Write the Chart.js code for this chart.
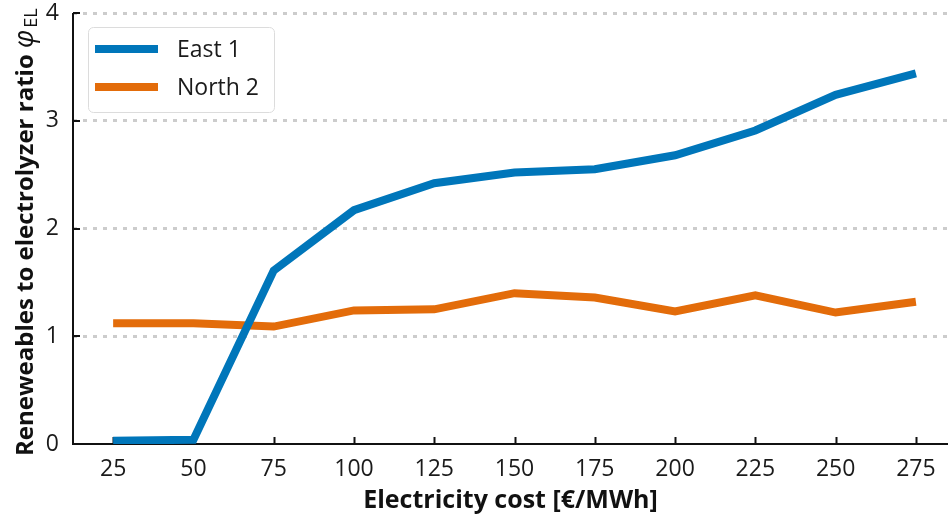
<!DOCTYPE html>
<html>
<head>
<meta charset="utf-8">
<script src="https://cdn.jsdelivr.net/npm/chart.js@4.4.0/dist/chart.umd.min.js"></script>
<style>
  html, body { margin: 0; padding: 0; background: #fff; }
  #wrap { width: 948px; height: 516px; }
</style>
</head>
<body>
<div id="wrap"><canvas id="ratio-chart" width="948" height="516"></canvas></div>
<script>
// electricity cost steps and the ratio per region
const costs = [25, 50, 75, 100, 125, 150, 175, 200, 225, 250, 275];
const east1 = [0.03, 0.04, 1.61, 2.17, 2.42, 2.52, 2.55, 2.68, 2.91, 3.24, 3.44];
const north2 = [1.12, 1.12, 1.09, 1.24, 1.25, 1.40, 1.36, 1.23, 1.38, 1.22, 1.32];
const xTicks = [25, 50, 75, 100, 125, 150, 175, 200, 225, 250, 275];
const yTicks = [0, 1, 2, 3, 4];

const FONT = "'Open Sans', sans-serif";
const BLUE = '#0076ba';
const ORANGE = '#e36c0a';

// spines + short inward tick marks, drawn under the lines
const axesPlugin = {
    id: 'axesPlugin',
    beforeDatasetsDraw(chart) {
        const {ctx, chartArea: a, scales: {x, y}} = chart;
        ctx.save();
        ctx.strokeStyle = '#111';
        ctx.lineWidth = 2;
        ctx.beginPath();
        ctx.moveTo(a.left, a.top);
        ctx.lineTo(a.left, a.bottom);
        ctx.lineTo(a.right, a.bottom);
        ctx.stroke();
        ctx.beginPath();
        xTicks.forEach((v) => {
            const px = Math.round(x.getPixelForValue(v)) + 0.5;
            ctx.moveTo(px, a.bottom);
            ctx.lineTo(px, a.bottom - 7);
        });
        yTicks.forEach((v) => {
            const py = Math.round(y.getPixelForValue(v));
            ctx.moveTo(a.left, py);
            ctx.lineTo(a.left + 7, py);
        });
        ctx.stroke();
        ctx.restore();
    }
};

// rotated y title with the phi_EL symbol
const yTitlePlugin = {
    id: 'yTitlePlugin',
    afterDraw(chart) {
        const ctx = chart.ctx;
        const parts = [
            {text: 'Reneweables to electrolyzer ratio ', font: 'bold 24px ' + FONT, dy: 0},
            {text: 'φ', font: 'italic 27px ' + FONT, dy: 0},
            {text: 'EL', font: '18px ' + FONT, dy: 4}
        ];
        ctx.save();
        ctx.translate(33, 456);
        ctx.rotate(-Math.PI / 2);
        ctx.fillStyle = '#111';
        ctx.textBaseline = 'alphabetic';
        let pos = 0;
        parts.forEach((p) => {
            ctx.font = p.font;
            ctx.fillText(p.text, pos, p.dy);
            pos += ctx.measureText(p.text).width + (p.text === 'φ' ? 2 : 0);
        });
        ctx.restore();
    }
};

// legend box inside the plot, upper left
const legendPlugin = {
    id: 'legendPlugin',
    afterDraw(chart) {
        const ctx = chart.ctx;
        const bx = 88, by = 27, bw = 186, bh = 85, r = 5;
        ctx.save();
        ctx.fillStyle = 'rgba(255,255,255,0.85)';
        ctx.strokeStyle = '#dcdcdc';
        ctx.lineWidth = 1;
        ctx.beginPath();
        ctx.roundRect(bx + 0.5, by + 0.5, bw, bh, r);
        ctx.fill();
        ctx.stroke();
        ctx.font = '23px ' + FONT;
        ctx.textBaseline = 'middle';
        chart.data.datasets.forEach((ds, i) => {
            const ly = 49 + i * 38;
            ctx.strokeStyle = ds.borderColor;
            ctx.lineWidth = 8;
            ctx.beginPath();
            ctx.moveTo(95, ly);
            ctx.lineTo(158, ly);
            ctx.stroke();
            ctx.fillStyle = '#1a1a1a';
            ctx.fillText(ds.label, 177, ly + 1);
        });
        ctx.restore();
    }
};

new Chart(document.getElementById('ratio-chart'), {
    type: 'line',
    data: {
        datasets: [
            {
                label: 'East 1',
                data: costs.map((c, i) => ({x: c, y: east1[i]})),
                borderColor: BLUE,
                borderWidth: 8,
                pointRadius: 0,
                tension: 0
            },
            {
                label: 'North 2',
                data: costs.map((c, i) => ({x: c, y: north2[i]})),
                borderColor: ORANGE,
                borderWidth: 8,
                pointRadius: 0,
                tension: 0
            }
        ]
    },
    options: {
        responsive: false,
        animation: false,
        layout: {padding: {top: 13, right: 0, left: 0, bottom: 0}},
        plugins: {
            legend: {display: false},
            tooltip: {enabled: false}
        },
        scales: {
            x: {
                type: 'linear',
                min: 12.5,
                max: 285,
                afterBuildTicks: (scale) => {
                    scale.ticks = xTicks.map((v) => ({value: v}));
                },
                afterFit: (scale) => {
                    scale.height = 72;
                    scale.paddingLeft = 0;
                    scale.paddingRight = 0;
                },
                grid: {display: false, drawTicks: false},
                border: {display: false},
                ticks: {
                    color: '#1a1a1a',
                    padding: 12,
                    maxRotation: 0,
                    font: {family: FONT, size: 23}
                },
                title: {
                    display: true,
                    text: 'Electricity cost [€/MWh]',
                    color: '#111',
                    padding: {top: 0, bottom: 0},
                    font: {family: FONT, size: 25, weight: 'bold'}
                }
            },
            y: {
                min: 0,
                max: 4,
                afterBuildTicks: (scale) => {
                    scale.ticks = yTicks.map((v) => ({value: v}));
                },
                afterFit: (scale) => {
                    scale.width = 73;
                    scale.paddingTop = 0;
                    scale.paddingBottom = 0;
                },
                grid: {
                    drawTicks: false,
                    color: (c) => (c.tick && c.tick.value === 0 ? 'rgba(0,0,0,0)' : '#cccccc'),
                    lineWidth: 3
                },
                border: {display: false, dash: [4, 6]},
                ticks: {
                    color: '#1a1a1a',
                    padding: 14,
                    font: {family: FONT, size: 23}
                }
            }
        }
    },
    plugins: [axesPlugin, yTitlePlugin, legendPlugin]
});
</script>
</body>
</html>
